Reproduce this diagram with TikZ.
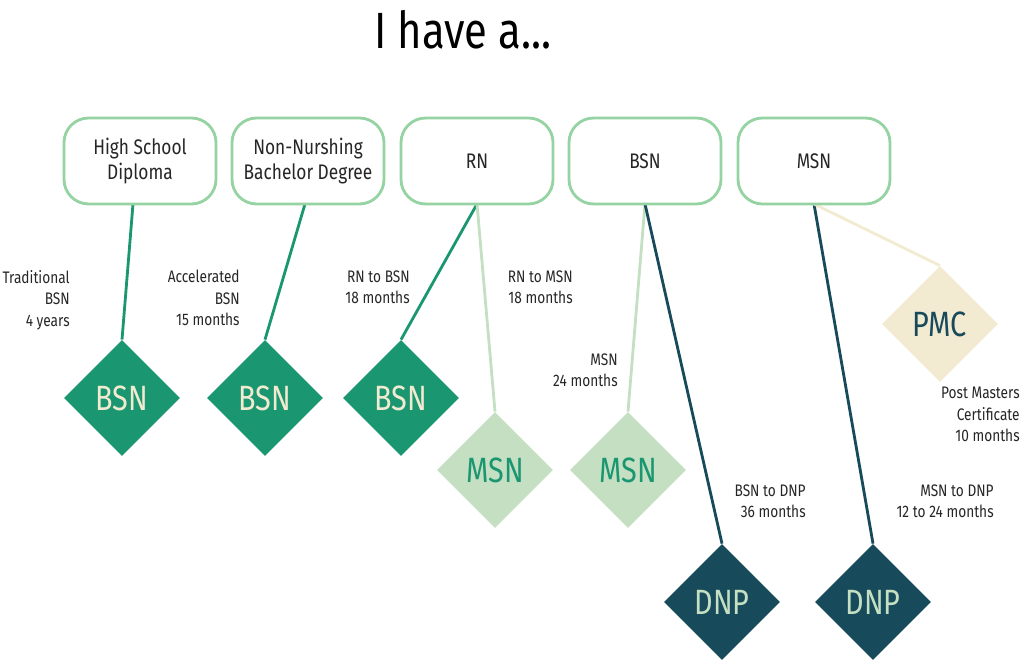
\documentclass[tikz,border=0pt]{standalone}
\usepackage{fontspec}
\setmainfont{Fira Sans}[FakeStretch=0.82]
\usetikzlibrary{shapes.geometric,backgrounds}
\definecolor{bgreen}{HTML}{1A9670}
\definecolor{lgreen}{HTML}{C5DFC3}
\definecolor{dteal}{HTML}{174A5A}
\definecolor{cream}{HTML}{F3EAD2}
\definecolor{boxb}{HTML}{95D3A2}
\begin{document}
\begin{tikzpicture}[x=0.02cm,y=-0.02cm,
 box/.style={draw=boxb,line width=1.6pt,rounded corners=14pt,fill=white,minimum width=152*0.02cm,minimum height=86*0.02cm,align=center,font=\fontsize{12}{14.5}\selectfont,text=black!85},
 dia/.style={diamond,minimum width=116*0.02cm,minimum height=116*0.02cm,inner sep=0pt,font=\fontsize{20}{21}\selectfont},
 bsn/.style={dia,fill=bgreen,text=cream},
 msn/.style={dia,fill=lgreen,text=bgreen},
 dnp/.style={dia,fill=dteal,text=lgreen},
 pmc/.style={dia,fill=cream,text=dteal},
 lab/.style={align=right,anchor=north east,inner sep=0pt,font=\fontsize{9.5}{12.2}\selectfont,text=black!85},
 ln/.style={line width=1.6pt}]
\useasboundingbox (0,0) rectangle (1024,661);
\node (title) at (463,30) {\fontsize{29}{32}\selectfont I have a...};
\node[box] (hs) at (140,161) {High School\\Diploma};
\node[box] (nn) at (308,161) {Non-Nurshing\\Bachelor Degree};
\node[box] (rn) at (477,161) {RN};
\node[box] (bs) at (645,161) {BSN};
\node[box] (ms) at (814,161) {MSN};
\coordinate (hsb) at (133,204);
\coordinate (nnb) at (305,204);
\coordinate (rnb) at (477,204);
\coordinate (bsb) at (645,204);
\coordinate (msb) at (814,204);
\node[bsn] (d1) at (122,398) {BSN};
\node[bsn] (d2) at (265,398) {BSN};
\node[bsn] (d3) at (401,398) {BSN};
\node[msn] (d4) at (495,470) {MSN};
\node[msn] (d5) at (628,470) {MSN};
\node[dnp] (d6) at (722,602) {DNP};
\node[dnp] (d7) at (873,602) {DNP};
\node[pmc] (d8) at (940,324) {PMC};
\begin{scope}[on background layer]
\draw[ln,bgreen] (hsb) -- (d1.north);
\draw[ln,bgreen] (nnb) -- (d2.north);
\draw[ln,bgreen] (rnb) -- (d3.north);
\draw[ln,lgreen] (rnb) -- (d4.north);
\draw[ln,lgreen] (bsb) -- (d5.north);
\draw[ln,dteal] (bsb) -- (d6.north);
\draw[ln,dteal] (msb) -- (d7.north);
\draw[ln,cream] (msb) -- (d8.north);
\end{scope}
\node[lab] (l1) at (70,270) {Traditional\\BSN\\4 years};
\node[lab] (l2) at (240,270) {Accelerated\\BSN\\15 months};
\node[lab] (l3) at (410,270) {RN to BSN\\18 months};
\node[lab] (l4) at (573,270) {RN to MSN\\18 months};
\node[lab] (l5) at (618,353) {MSN\\24 months};
\node[lab] (l6) at (806,484) {BSN to DNP\\36 months};
\node[lab] (l7) at (1020,387) {Post Masters\\Certificate\\10 months};
\node[lab] (l8) at (994,484) {MSN to DNP\\12 to 24 months};
\end{tikzpicture}
\end{document}
